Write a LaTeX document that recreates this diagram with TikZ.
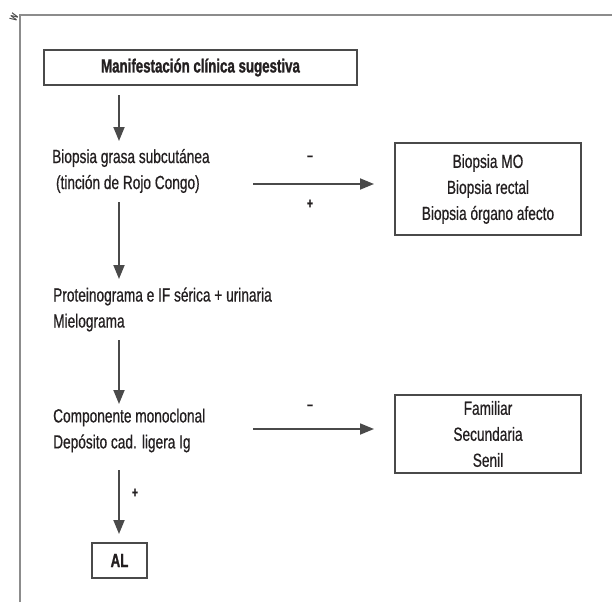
\documentclass[tikz,border=0pt]{standalone}
\usepackage{fontspec}
\setmainfont[FakeStretch=0.72,FakeBold=0.6]{Liberation Sans}
\newfontfamily\titlefont[FakeStretch=0.70,FakeBold=1.2]{Liberation Sans Bold}
\usetikzlibrary{arrows.meta}
\definecolor{ink}{HTML}{231F20}
\definecolor{linec}{HTML}{4A4A4A}
\definecolor{framec}{HTML}{8C8C8C}
\begin{document}
\begin{tikzpicture}[x=1pt,y=-1pt,
  every node/.style={text=ink,font=\fontsize{19}{26}\selectfont,inner sep=0pt},
  boxnode/.style={draw=linec,line width=1.6pt,align=center,inner sep=0pt},
  txt/.style={anchor=west,align=left},
  lab/.style={font=\fontsize{15}{15}\titlefont},
  arr/.style={draw=linec,line width=1.8pt,-{Triangle[width=11pt,length=14pt]}}]
\useasboundingbox (0,0) rectangle (612,602);
\draw[framec,line width=1.6pt] (20,602) -- (20,15) -- (612,15);
\node[text=linec,font=\fontsize{13}{13}\selectfont,rotate=65] (mark) at (14,17) {w};
% boxes
\node[boxnode,minimum width=313pt,minimum height=35pt,font=\fontsize{19}{26}\titlefont] (m1) at (200.5,67.5) {Manifestación clínica sugestiva};
\node[boxnode,minimum width=186pt,minimum height=92pt] (b2) at (488,189) {Biopsia MO\\Biopsia rectal\\Biopsia órgano afecto};
\node[boxnode,minimum width=186pt,minimum height=78pt] (b3) at (488,434) {Familiar\\Secundaria\\Senil};
\node[boxnode,minimum width=55pt,minimum height=35pt,font=\fontsize{19}{26}\titlefont] (al) at (119.5,560.5) {AL};
% texts
\node[txt] (t1) at (52,171) {Biopsia grasa subcutánea\\\ (tinción de Rojo Congo)};
\node[txt] (t2) at (53,309.5) {Proteinograma e IF sérica + urinaria\\Mielograma};
\node[txt] (t3) at (53,430.5) {Componente monoclonal\\Depósito cad. ligera Ig};
% arrow ends
\coordinate (a1s) at (119,95); \coordinate (a1e) at (119,141);
\coordinate (a2s) at (119,202); \coordinate (a2e) at (119,279);
\coordinate (a3s) at (119,340); \coordinate (a3e) at (119,404);
\coordinate (a4s) at (119,470); \coordinate (a4e) at (119,534);
\coordinate (h1s) at (253,184); \coordinate (h1e) at (374,184);
\coordinate (h2s) at (253,429); \coordinate (h2e) at (374,429);
\draw[arr] (a1s) -- (a1e);
\draw[arr] (a2s) -- (a2e);
\draw[arr] (a3s) -- (a3e);
\draw[arr] (a4s) -- (a4e);
\draw[arr] (h1s) -- (h1e);
\draw[arr] (h2s) -- (h2e);
% signs
\node[lab] (s1) at (310,158) {–};
\node[lab] (s2) at (310,204) {+};
\node[lab] (s3) at (310,407) {–};
\node[lab] (s4) at (135,493) {+};
\end{tikzpicture}
\end{document}
